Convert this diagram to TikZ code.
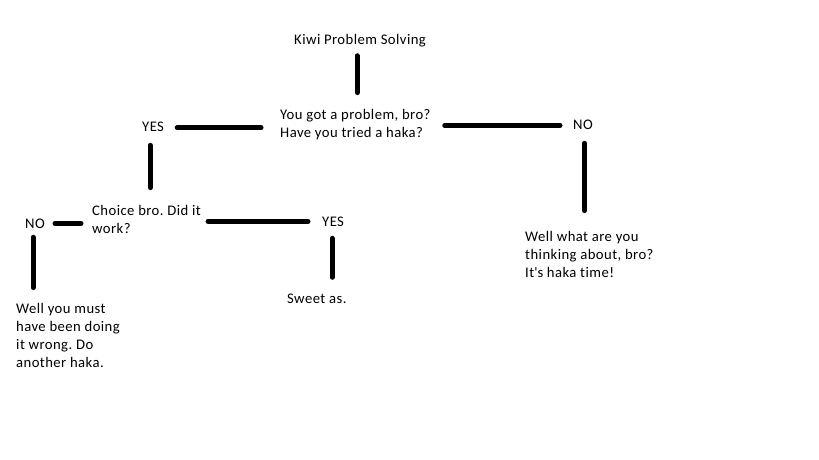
\documentclass[tikz,border=0pt]{standalone}
\usepackage{fontspec}
\setmainfont{Carlito}[Ligatures={NoCommon},LetterSpace=3]
\begin{document}
\frenchspacing
\begin{tikzpicture}[x=1pt,y=-1pt,
  txt/.style={inner sep=0pt,anchor=base west,align=left,font=\fontsize{14.67pt}{18pt}\selectfont},
  conn/.style={line width=5pt,line cap=round}]
\useasboundingbox[fill=white] (0,0) rectangle (819,460);
\node[txt] (title) at (294,45) {Kiwi Problem Solving};
\node[txt] (q1) at (280,137) {You got a problem, bro?\\Have you tried a haka?};
\node[txt] (yes1) at (142,131) {YES};
\node[txt] (no1) at (573,129) {NO};
\node[txt] (q2) at (92,233) {Choice bro. Did it\\work?};
\node[txt] (no2) at (25,228) {NO};
\node[txt] (yes2) at (322,226) {YES};
\node[txt] (a1) at (16,367) {Well you must\\have been doing\\it wrong. Do\\another haka.};
\node[txt] (a2) at (287,303) {Sweet as.};
\node[txt] (a3) at (525,277) {Well what are you\\thinking about, bro?\\It\textquotesingle s haka time!};
\draw[conn,shorten <=8pt,shorten >=16pt] ([xshift=-3pt]title.south) -- ([xshift=-3pt]title.south |- q1.north);
\draw[conn,shorten <=19pt,shorten >=13pt] ([yshift=-1.5pt]yes1.east -| q1.west) -- ([yshift=-1.5pt]yes1.east);
\draw[conn,shorten <=14pt,shorten >=13pt] ([yshift=-1pt]no1.west -| q1.east) -- ([yshift=-1pt]no1.west);
\draw[conn,shorten <=14pt,shorten >=17pt] ([xshift=-3pt]yes1.south) -- ([xshift=-3pt]yes1.south |- q2.north);
\draw[conn,shorten <=14pt,shorten >=20pt] ([xshift=1.5pt]no1.south) -- ([xshift=1.5pt]no1.south |- a3.north);
\draw[conn,shorten <=11pt,shorten >=10pt] (no2.east -| q2.west) -- (no2.east);
\draw[conn,shorten <=7pt,shorten >=14pt] (yes2.west -| q2.east) -- (yes2.west);
\draw[conn,shorten <=9pt,shorten >=15pt] ([xshift=-2pt]no2.south) -- ([xshift=-2pt]no2.south |- a1.north);
\draw[conn,shorten <=12pt,shorten >=16pt] ([xshift=-1pt]yes2.south) -- ([xshift=-1pt]yes2.south |- a2.north);
\end{tikzpicture}
\end{document}
